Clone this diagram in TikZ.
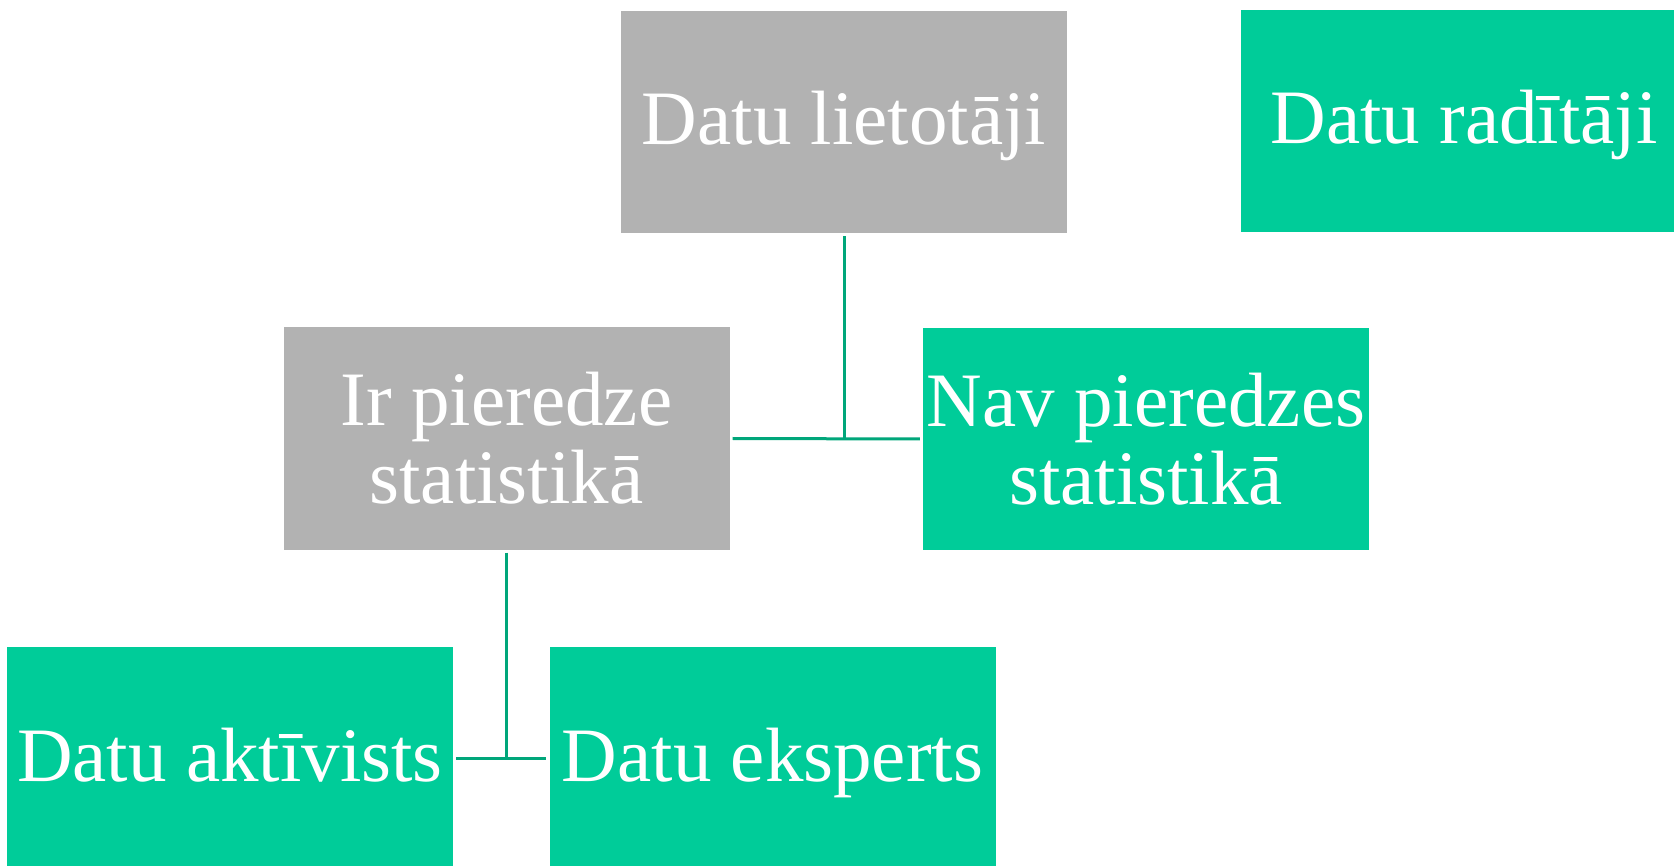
\documentclass[tikz,border=0pt]{standalone}
\usepackage{fontspec}
\setmainfont{Liberation Serif}
\definecolor{boxgray}{RGB}{178,178,178}
\definecolor{boxgreen}{RGB}{0,204,153}
\definecolor{linegreen}{RGB}{0,166,122}
\begin{document}
\begin{tikzpicture}[x=1pt,y=-1pt,
  box/.style={minimum width=446pt,minimum height=222pt,inner sep=0pt,text=white,
    font=\fontsize{77}{78}\selectfont,align=center,anchor=center},
  oneline/.style={text height=56pt,text depth=10pt},
  graybox/.style={box,fill=boxgray},
  greenbox/.style={box,fill=boxgreen},
  link/.style={draw=linegreen,line width=3pt}]
\useasboundingbox (0,0) rectangle (1674,866);
\clip (0,0) rectangle (1674,866);
\node[graybox,oneline]  (users)   at (844,122)    {Datu lietotāji};
\node[greenbox,oneline] (makers)  at (1464,121)   {Datu radītāji};
\node[graybox]  (exp)     at (506.5,438.5) {Ir pieredze\\statistikā};
\node[greenbox] (noexp)   at (1146,439)   {Nav pieredzes\\statistikā};
\node[greenbox,oneline] (act)     at (230,758)    {Datu aktīvists};
\node[greenbox,oneline] (expert)  at (772.5,758)  {Datu eksperts};
\draw[link] ([yshift=-3pt]users.south) -- (users.south |- exp.east);
\draw[link] ([xshift=3pt]exp.east) -- ([xshift=-3pt]noexp.west);
\draw[link] ([yshift=-3pt]exp.south) -- (exp.south |- act.east);
\draw[link] ([xshift=3pt]act.east) -- ([xshift=-3pt]expert.west);
\end{tikzpicture}
\end{document}
